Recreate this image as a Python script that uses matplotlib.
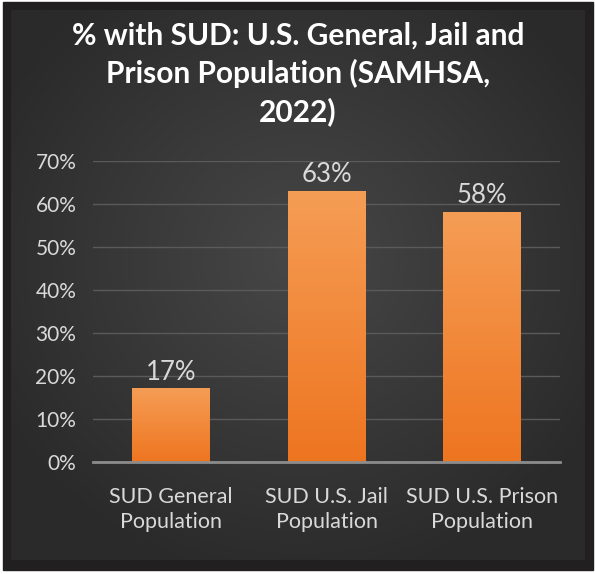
import numpy as np
import matplotlib
matplotlib.use("Agg")
import matplotlib.pyplot as plt
from matplotlib.colors import LinearSegmentedColormap
from matplotlib.patches import Rectangle

# data
categories = ["SUD General\nPopulation", "SUD U.S. Jail\nPopulation", "SUD U.S. Prison\nPopulation"]
values = [0.17, 0.63, 0.58]
value_labels = ["17%", "63%", "58%"]
title = "% with SUD: U.S. General, Jail and\nPrison Population (SAMHSA,\n2022)"

plt.rcParams['font.family'] = ['Lato', 'DejaVu Sans']

W, H = 595, 574
fig = plt.figure(figsize=(W / 100, H / 100), dpi=100, facecolor="white")

# background frame + radial gradient
bg = fig.add_axes([0, 0, 1, 1])
bg.set_xlim(0, W)
bg.set_ylim(H, 0)
bg.axis("off")
bg.add_patch(Rectangle((3, 2), 590, 568, color="#221f20", zorder=0))
yy, xx = np.mgrid[0:200, 0:200]
d = np.sqrt(((xx - 100) / 100.0) ** 2 + ((yy - 90) / 100.0) ** 2)
d = np.clip(d / 1.2, 0, 1)
grad = LinearSegmentedColormap.from_list("bg", ["#474747", "#2a2a2a"])
bg.imshow(d, cmap=grad, extent=[11, 585, 560, 10], aspect="auto", zorder=1)
bg.set_xlim(0, W)
bg.set_ylim(H, 0)

# title
fig.text(298 / W, 1 - 74 / H, title, ha="center", va="center", color="white",
         fontsize=21.5, fontweight="bold", linespacing=1.38)

# main axes
ax = fig.add_axes([93 / W, (H - 462) / H, (560 - 93) / W, (462 - 161) / H])
ax.patch.set_alpha(0)
ax.set_xlim(-0.5, 2.5)
ax.set_ylim(0, 0.7)

bar_cmap = LinearSegmentedColormap.from_list("bar", ["#ee7520", "#f59d55"])
ramp = np.linspace(0, 1, 100).reshape(-1, 1)
x = np.arange(len(categories))
for xi, v, lab in zip(x, values, value_labels):
    ax.imshow(ramp, cmap=bar_cmap, origin="lower", aspect="auto",
              extent=[xi - 0.25, xi + 0.25, 0, v], zorder=3)
    ax.text(xi, v + 0.01, lab, ha="center", va="bottom", color="#d9d9d9", fontsize=18.5)
ax.set_xlim(-0.5, 2.5)
ax.set_ylim(0, 0.7)

ax.set_yticks(np.arange(0, 0.71, 0.1))
ax.set_yticklabels([f"{int(round(t * 100))}%" for t in np.arange(0, 0.71, 0.1)])
ax.set_xticks(x)
ax.set_xticklabels(categories)
ax.tick_params(axis="both", length=0, colors="#d9d9d9")
ax.tick_params(axis="y", pad=12, labelsize=15)
ax.tick_params(axis="x", pad=18, labelsize=15.5)
for t in ax.get_xticklabels():
    t.set_linespacing(1.3)
ax.grid(axis="y", color="#5a5a5a", linewidth=1)
ax.set_axisbelow(True)
for s in ["top", "right", "left"]:
    ax.spines[s].set_visible(False)
ax.spines["bottom"].set_color("#8c8c8c")
ax.spines["bottom"].set_linewidth(2)
ax.spines["bottom"].set_zorder(4)

fig.savefig("out.png", dpi=100, facecolor="white")
